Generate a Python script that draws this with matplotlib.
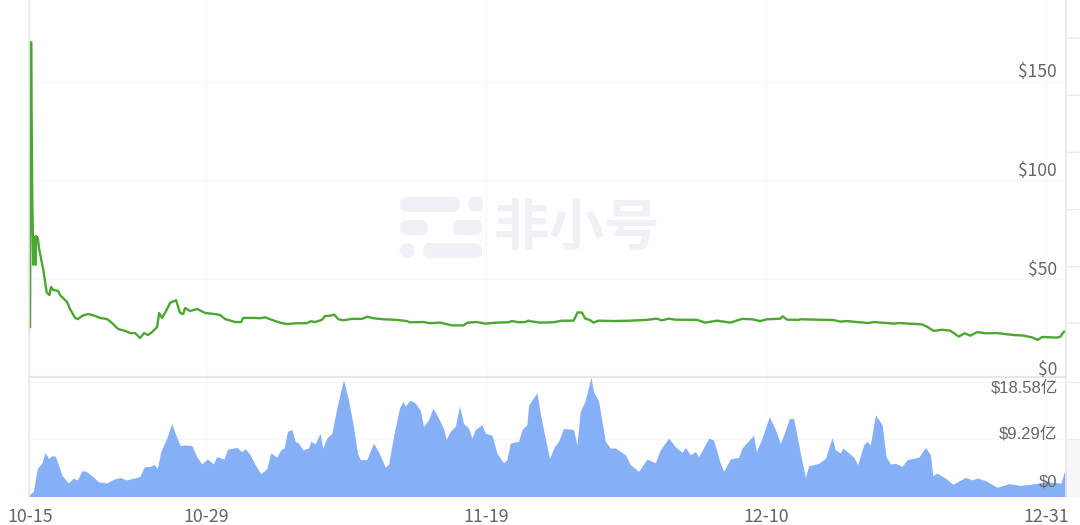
import matplotlib
matplotlib.use("Agg")
import matplotlib.pyplot as plt
from matplotlib.patches import FancyBboxPatch, Circle, Rectangle
from matplotlib.transforms import Affine2D

W, H = 1080, 525
CJK = ['Noto Sans CJK SC', 'DejaVu Sans']
ARIAL = ['Liberation Sans', 'Noto Sans CJK SC']

# --- data (x in days after 10-15) ---
price_days = [0.8,0.88,0.97,1.05,1.14,1.23,1.25,1.38,1.5,1.8,2.05,2.25,2.38,2.53,2.9,3.05,3.28,3.58,3.8,
    4.18,4.4,4.7,5.15,5.68,6.05,6.58,6.95,7.4,7.93,8.3,8.68,9.05,9.35,9.65,9.95,10.33,10.48,10.7,11.0,
    11.3,11.75,12.05,12.28,12.43,12.8,13.33,13.93,14.6,15.05,15.43,16.18,16.63,16.78,17.68,
    18.05,18.43,18.93,19.55,20.05,20.8,21.55,21.85,22.18,22.68,22.93,23.3,23.6,23.93,24.3,24.93,25.68,26.1,26.55,
    27.3,28.3,29.05,29.25,30.3,30.8,31.55,32.43,33.3,33.6,34.3,34.93,35.8,36.68,36.93,37.43,37.93,38.18,
    38.3,39.05,40.05,40.68,41.55,41.85,42.18,42.43,42.75,43.05,43.43,44.55,45.8,47.05,47.75,48.18,48.68,49.18,
    50.8,51.43,52.3,53.3,54.18,54.93,55.55,56.05,57.05,57.23,57.55,58.43,
    58.55,59.8,61.05,61.55,62.05,62.8,63.68,64.05,65.55,65.93,67.68,68.05,68.55,69.18,69.8,70.43,70.85,71.3,71.8,
    72.43,73.3,74.55,75.3,75.93,76.35,76.68,77.8,78.05,78.3,78.55]
price_vals = [25.4,170,90,57,71,57,71.5,70.5,64.5,54.3,43,41.6,45.7,44.2,43.7,41.6,40.1,38.1,34.5,
    30,29.4,31,32,31,30,29.4,27.4,24.4,23.4,22.3,22.3,19.8,22.3,21.3,22.8,25.4,32.5,30,33.5,
    37.6,39,32.5,32,35,33.5,34.5,32.5,32,31.5,29.4,27.9,27.9,30,30,
    29.8,30.3,29,27.6,26.9,27.3,27.3,28.3,27.9,29,31,31.1,31.7,29.3,28.8,29.5,29.5,30.6,29.8,
    29.3,29,28.4,27.8,27.9,27.3,27.6,26.2,26.2,27.6,27.9,27.1,27.6,27.8,28.4,27.8,27.9,28.6,
    28.3,27.6,27.8,28.6,28.6,32.8,32.7,29.6,29,27.6,28.6,28.4,28.6,29,29.6,28.8,29.6,29.1,
    29,27.6,28.6,27.6,29.5,29.3,28.4,29.3,29.6,30.8,29.1,29,
    29.3,29.1,28.9,28.1,28.4,27.9,27.4,27.9,27.1,27.4,26.7,25.5,23.4,24,23.5,20.5,22.2,21,22.8,
    22.2,22.3,21.3,21,20.1,18.8,20.3,20,20.5,23,23]

volume_days = [0.75,1.05,1.35,1.68,1.93,2.18,2.43,2.68,2.93,3.18,3.68,4.05,4.35,4.68,5.0,5.43,5.93,6.55,7.05,7.55,
    8.05,8.8,9.05,9.35,9.8,10.1,10.35,10.6,11.05,11.43,11.68,12.05,12.43,12.93,13.3,13.68,14.1,14.55,14.8,15.35,
    15.6,16.3,16.68,16.93,17.3,17.68,18.1,18.55,18.85,19.3,19.6,19.85,20.1,20.43,20.68,20.93,21.25,21.68,21.85,22.18,
    22.55,22.75,23.05,23.43,23.8,24.3,24.68,25.05,25.35,
    25.55,26.05,26.55,26.93,27.43,27.68,28.05,28.5,28.75,28.93,29.3,29.68,30.05,30.3,30.68,31.0,31.3,31.8,32.0,32.3,
    32.68,33.0,33.3,33.68,33.93,34.18,34.68,34.93,35.43,35.8,36.3,36.55,36.8,37.43,37.68,38.05,38.18,38.8,39.05,39.35,
    39.75,40.1,40.43,40.8,41.55,41.8,42.05,42.43,42.85,43.05,43.43,43.93,44.3,44.68,45.43,45.8,46.43,47.05,47.68,48.05,
    48.68,49.18,49.68,49.93,50.3,50.68,50.93,51.68,52.05,
    52.55,52.8,53.3,53.93,54.18,55.05,55.25,55.68,56.23,56.68,57.05,57.3,57.73,58.05,58.55,58.93,59.18,59.93,60.43,60.93,
    61.18,61.55,61.73,62.18,62.55,62.85,63.3,63.55,63.8,64.18,64.68,64.98,65.3,65.68,66.18,66.55,67.43,67.93,68.3,68.48,
    68.8,69.43,69.98,70.93,71.43,71.8,72.43,73.3,74.18,75.05,76.18,76.93,78.1,78.35,78.48]
volume_vals = [0.3,0.8,4.6,5.4,7.2,6.2,6.6,6.6,5.2,3.5,2.2,3.0,2.7,4.2,4.1,3.4,2.4,2.2,2.8,3.1,
    2.7,3.1,3.3,4.8,4.9,5.2,4.6,7.3,9.5,11.9,10.3,8.3,8.4,8.3,6.5,5.3,6.1,5.3,6.5,6.1,
    7.7,8.0,7.3,7.8,6.8,5.2,3.7,4.5,7.1,6.4,7.6,7.9,10.6,10.9,9.0,8.7,7.6,7.9,9.0,8.6,
    10.3,7.9,9.5,10.3,14.4,19.0,15.7,11.4,7.1,
    6.0,6.0,8.7,7.3,4.8,5.2,9.8,14.4,15.5,14.7,15.7,15.2,14.1,11.4,12.5,14.4,13.3,11.1,9.3,10.6,
    11.4,14.7,11.9,11.1,9.5,10.9,11.7,10.3,10.0,7.1,5.5,6.0,8.7,9.0,10.9,11.7,14.9,16.9,13.6,10.3,
    6.2,8.1,9.0,11.1,10.9,8.4,13.8,15.7,19.4,17.1,15.5,9.0,7.9,7.9,6.8,5.2,4.1,6.1,5.5,7.6,
    9.5,8.1,7.2,8.0,6.8,7.3,6.5,9.5,9.2,
    5.4,4.1,6.1,6.4,7.9,10.0,7.3,9.5,13.0,10.9,8.6,10.0,12.7,12.7,7.1,3.1,5.0,5.4,6.2,9.6,
    7.6,7.1,7.9,7.1,6.4,5.2,8.4,9.0,8.4,13.3,11.7,6.5,5.3,5.4,4.9,6.0,6.4,8.0,6.8,3.4,
    3.8,3.0,2.0,3.1,2.7,3.0,2.6,1.5,2.1,1.8,2.1,2.4,2.2,4.1,4.3]

x_ticks = [0.8, 14, 35, 56, 77]
x_labels = ['10-15', '10-29', '11-19', '12-10', '12-31']
price_ticks = [0, 50, 100, 150]
price_labels = ['$0', '$50', '$100', '$150']
volume_ticks = [0, 9.29, 18.58]
volume_labels = ['$0', '$9.29亿', '$18.58亿']
outer_price_ticks = [27.4, 56, 85, 114, 143, 172]

LEFT, RIGHT, TOP_BOTTOM, VOL_TOP, VOL_BOTTOM = 29.3, 1065.5, 377, 378, 496.5


def rect(l, t, r, b):
    return [l / W, 1 - b / H, (r - l) / W, (b - t) / H]


fig = plt.figure(figsize=(W / 100, H / 100), dpi=100, facecolor='white')
ax = fig.add_axes(rect(LEFT, 0, RIGHT, TOP_BOTTOM))
axv = fig.add_axes(rect(LEFT, VOL_TOP, RIGHT, VOL_BOTTOM))
for a in (ax, axv):
    a.patch.set_visible(False)
    a.set_xlim(0.7475, 78.43)
    a.set_xticks(x_ticks)
    a.grid(True, axis='both', color='#f6f6f6', lw=0.8)
    a.set_axisbelow(True)
    for s in a.spines.values():
        s.set_color('#e6e6ec')
        s.set_linewidth(1.2)
    a.spines['top'].set_visible(False)

# --- watermark (figure pixels, y down) ---
px_to_fig = Affine2D().scale(1 / W, -1 / H).translate(0, 1) + fig.transFigure
wm = '#eff1f7'
for l, t, r, b in [(400, 197, 460, 212), (400, 220, 428, 235), (453, 220, 482, 235), (423, 243, 482, 258)]:
    fig.add_artist(FancyBboxPatch((l + 7, t + 7), r - l - 14, b - t - 14, boxstyle='round,pad=7,rounding_size=7',
                                  fc=wm, ec='none', transform=px_to_fig, zorder=-1))
for cx, cy in [(475.7, 204), (407, 250.7)]:
    fig.add_artist(Circle((cx, cy), 7.5, fc=wm, ec='none', transform=px_to_fig, zorder=-1))
fig.text(577 / W, 1 - 229 / H, '非小号', family=CJK, fontsize=40, fontweight='bold', color=wm,
         ha='center', va='center', zorder=-1)

# --- right gutter ---
fig.add_artist(Rectangle((RIGHT / W, 1 - 496.5 / H), (W - RIGHT) / W, 58 / H, fc='#f6f6fb', ec='none',
                         transform=fig.transFigure, zorder=-1))

# --- price ---
ax.plot(price_days, price_vals, color='#4ca632', lw=1.7, solid_joinstyle='round', clip_on=True)
ax.set_ylim(0, TOP_BOTTOM / 1.97)
ax.set_yticks(price_ticks)
ax.set_yticklabels([])
ax.tick_params(axis='both', length=0, labelbottom=False)
ax.spines['bottom'].set_linewidth(1.5)
for v, lab, off in zip(price_ticks, price_labels, (5.0, 6.4, 6.4, 7.0)):
    ax.annotate(lab, xy=(1, v), xycoords=('axes fraction', 'data'), xytext=(-6.2, off), textcoords='offset points',
                ha='right', va='center', family=CJK, fontsize=12.6, color='#666666', annotation_clip=False)
for v in outer_price_ticks:
    ax.annotate('', xy=(1, v), xycoords=('axes fraction', 'data'), xytext=(10.5, 0), textcoords='offset points',
                arrowprops=dict(arrowstyle='-', color='#ececf0', lw=1, shrinkA=0, shrinkB=0), annotation_clip=False)

# --- volume ---
axv.fill_between(volume_days, volume_vals, 0, color='#86b0f5', lw=0)
axv.set_ylim(0, 19.3)
axv.set_yticks(volume_ticks)
axv.set_yticklabels([])
axv.set_xticklabels(x_labels, family=CJK, fontsize=12.8, color='#666666')
axv.tick_params(axis='both', length=0)
axv.tick_params(axis='x', pad=8.5)
axv.spines['bottom'].set_visible(False)
for v, lab, off in zip(volume_ticks, volume_labels, (10.6, 3.7, -4.5)):
    axv.annotate(lab, xy=(1, v), xycoords=('axes fraction', 'data'), xytext=(-5.6, off), textcoords='offset points',
                 ha='right', va='center', family=ARIAL, fontsize=12, color='#666666', annotation_clip=False)
for v in volume_ticks[1:]:
    axv.annotate('', xy=(1, v), xycoords=('axes fraction', 'data'), xytext=(10.5, 0), textcoords='offset points',
                 arrowprops=dict(arrowstyle='-', color='#ececf0', lw=1, shrinkA=0, shrinkB=0), annotation_clip=False)

fig.savefig('out.png', dpi=100)
